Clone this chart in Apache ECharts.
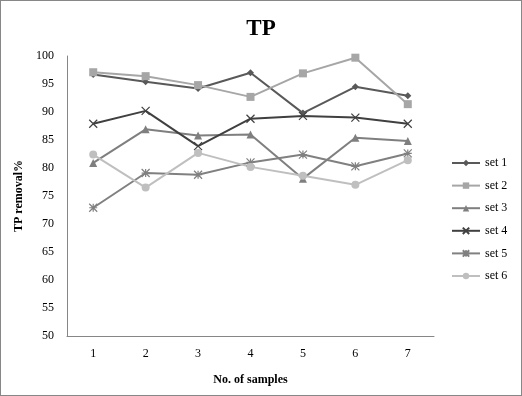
<!DOCTYPE html>
<html><head><meta charset="utf-8">
<script src="https://cdn.jsdelivr.net/npm/echarts@6/dist/echarts.min.js"></script>
<style>
html,body{margin:0;padding:0;background:#fff;}
#c{width:522px;height:396px;box-sizing:border-box;border:1px solid #878787;}
</style></head>
<body><div id="c"></div>
<script>
const categories = ['1','2','3','4','5','6','7'];
const set1 = [96.7, 95.4, 94.2, 97.0, 89.8, 94.5, 92.9];
const set2 = [97.1, 96.4, 94.8, 92.7, 96.9, 99.7, 91.4];
const set3 = [80.9, 86.9, 85.8, 86.0, 78.1, 85.4, 84.8];
const set4 = [87.9, 90.2, 83.9, 88.8, 89.3, 89.0, 87.9];
const set5 = [72.9, 79.1, 78.8, 81.0, 82.4, 80.3, 82.6];
const set6 = [82.4, 76.5, 82.7, 80.2, 78.6, 77.0, 81.4];
const seriesNames = ['set 1','set 2','set 3','set 4','set 5','set 6'];
const yTicks = [50,55,60,65,70,75,80,85,90,95,100];

const serif = '"Liberation Serif","DejaVu Serif",serif';
const colors = ['#595959','#a6a6a6','#7f7f7f','#404040','#808080','#bfbfbf'];
const symbols = ['diamond','rect','triangle','path://M0,0L10,10M10,0L0,10','path://M0,0L10,10M10,0L0,10M5,0L5,10M0,5L10,5','circle'];
const sizes = [7,8,8,8,8,8];
const data = [set1,set2,set3,set4,set5,set6];

const chart = echarts.init(document.getElementById('c'));
chart.setOption({
  animation:false,
  backgroundColor:'#fff',
  title:{text:'TP',left:'center',top:12,textStyle:{fontFamily:serif,fontSize:23,fontWeight:'bold',color:'#000'}},
  legend:{orient:'vertical',left:450,top:156,padding:0,itemWidth:28,itemHeight:8,itemGap:10.6,
    data:seriesNames,textStyle:{fontFamily:serif,fontSize:12,color:'#000'}},
  grid:{left:66,right:87,top:55,bottom:59,containLabel:false},
  xAxis:{type:'category',data:categories,boundaryGap:true,
    name:'No. of samples',nameLocation:'middle',nameGap:38,
    nameTextStyle:{fontFamily:serif,fontSize:12,fontWeight:'bold',color:'#000'},
    axisLine:{lineStyle:{color:'#868686',width:1}},axisTick:{show:false},
    axisLabel:{fontFamily:serif,fontSize:12,color:'#000',margin:12}},
  yAxis:{type:'value',min:yTicks[0],max:yTicks[yTicks.length-1],interval:5,
    name:'TP removal%',nameLocation:'middle',nameGap:37,nameRotate:90,
    nameTextStyle:{fontFamily:serif,fontSize:12,fontWeight:'bold',color:'#000'},
    axisLine:{show:true,lineStyle:{color:'#868686',width:1}},axisTick:{show:false},splitLine:{show:false},
    axisLabel:{fontFamily:serif,fontSize:12,color:'#000',margin:13}},
  series: data.map((d,i)=>({
    name:seriesNames[i],type:'line',data:d,symbol:symbols[i],symbolSize:sizes[i],
    showSymbol:true,
    lineStyle:{color:colors[i],width:2},
    itemStyle:{color:colors[i],borderColor:colors[i],borderWidth:(i===3||i===4)?1.2:0}
  }))
});
</script></body></html>
